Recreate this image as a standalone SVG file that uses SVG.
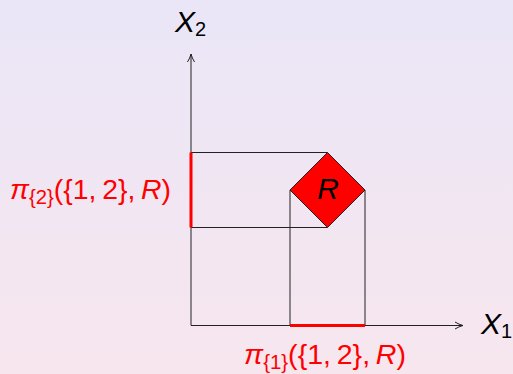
<svg xmlns="http://www.w3.org/2000/svg" width="513" height="374" viewBox="0 0 513 374">
  <defs>
    <linearGradient id="bg" x1="0" y1="0" x2="0" y2="1">
      <stop offset="0" stop-color="#EAE6F7"/>
      <stop offset="1" stop-color="#F7E6EE"/>
    </linearGradient>
    <marker id="arrow" viewBox="0 0 10 10" refX="9" refY="5" markerWidth="10" markerHeight="10" markerUnits="userSpaceOnUse" orient="auto">
      <path d="M1,1.5 Q5,4 9,5 Q5,6 1,8.5" fill="none" stroke="#222" stroke-width="1"/>
    </marker>
  </defs>
  <style>
    .ln { stroke: #222; stroke-width: 1; fill: none; }
    .proj { stroke: #FF0000; stroke-width: 3; fill: none; }
    .lbl { font-family: "Liberation Sans", Arial, sans-serif; }
    .red { fill: #FF0000; }
    .blk { fill: #000; }
  </style>
  <rect x="0" y="0" width="513" height="374" fill="url(#bg)"/>

  <g id="connectors">
    <line class="ln" x1="191" y1="325.5" x2="191" y2="54" marker-end="url(#arrow)"/>
    <line class="ln" x1="191" y1="325.5" x2="463" y2="325.5" marker-end="url(#arrow)"/>
    <line class="ln" x1="191" y1="152.5" x2="327.5" y2="152.5"/>
    <line class="ln" x1="191" y1="227.5" x2="327.5" y2="227.5"/>
    <line class="ln" x1="290" y1="190" x2="290" y2="325.5"/>
    <line class="ln" x1="365" y1="190" x2="365" y2="325.5"/>
  </g>

  <g id="proj2">
    <line class="proj" x1="191" y1="152.5" x2="191" y2="227.5"/>
    <text class="lbl red" x="10" y="199" font-size="28" textLength="161" lengthAdjust="spacingAndGlyphs"><tspan font-style="italic">π</tspan><tspan font-size="20" dy="5">{2}</tspan><tspan dy="-5">({1,&#8201;2},&#8201;</tspan><tspan font-style="italic">R</tspan><tspan>)</tspan></text>
  </g>

  <g id="proj1">
    <line class="proj" x1="290" y1="325.5" x2="365" y2="325.5"/>
    <text class="lbl red" x="244" y="364" font-size="28" textLength="162" lengthAdjust="spacingAndGlyphs"><tspan font-style="italic">π</tspan><tspan font-size="20" dy="5">{1}</tspan><tspan dy="-5">({1,&#8201;2},&#8201;</tspan><tspan font-style="italic">R</tspan><tspan>)</tspan></text>
  </g>

  <g id="R">
    <polygon points="327.5,152.5 365,190 327.5,227.5 290,190" fill="#FF0000" stroke="#222" stroke-width="1"/>
    <text class="lbl blk" x="328" y="198.5" font-size="30" font-style="italic" text-anchor="middle">R</text>
  </g>

  <g id="X2">
    <text class="lbl blk" x="175" y="32" font-size="30" font-style="italic">X<tspan font-style="normal" font-size="20" dy="4">2</tspan></text>
  </g>

  <g id="X1">
    <text class="lbl blk" x="481" y="334" font-size="30" font-style="italic">X<tspan font-style="normal" font-size="20" dy="4">1</tspan></text>
  </g>
</svg>
